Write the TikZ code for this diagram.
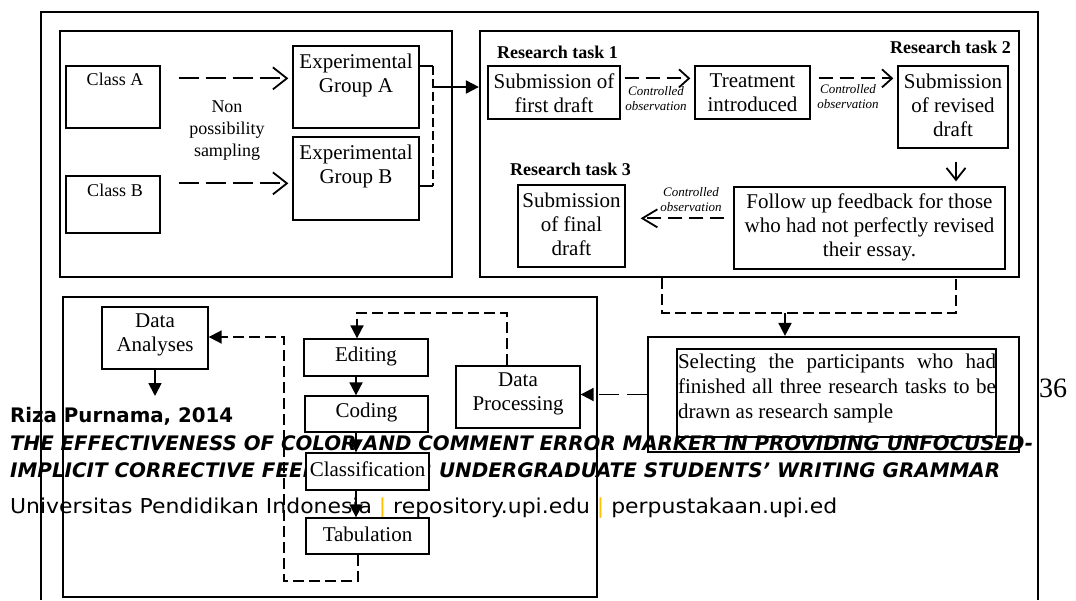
\documentclass[tikz,border=0pt]{standalone}
\usepackage{fontspec}
\usepackage{graphicx}
\setmainfont{Liberation Serif}
\newfontfamily\footfont{DejaVu Sans}
\usetikzlibrary{arrows.meta,calc,fit}
\definecolor{footy}{RGB}{255,192,0}
\begin{document}
\begin{tikzpicture}[x=1pt,y=-1pt,
  container/.style={draw,line width=2.2pt,inner sep=0pt},
  box/.style={draw,line width=1.3pt,fill=white,inner sep=0pt},
  plainbox/.style={draw,line width=1.3pt,inner sep=0pt},
  txtbig/.style={inner sep=0pt,align=center,font=\fontsize{21}{24}\selectfont},
  txtmid/.style={inner sep=0pt,align=center,font=\fontsize{18}{22}\selectfont},
  rtlabel/.style={inner sep=0pt,font=\fontsize{18}{20}\selectfont\bfseries},
  cobs/.style={inner sep=0pt,align=center,font=\fontsize{13}{15}\selectfont\itshape},
  conn/.style={line width=1.8pt},
  bigdash/.style={conn,dash pattern=on 20pt off 7pt},
  middash/.style={conn,dash pattern=on 14pt off 7pt},
  smalldash/.style={conn,dash pattern=on 11pt off 5pt},
  tinydash/.style={conn,dash pattern=on 9pt off 4pt},
  longdash/.style={conn,dash pattern=on 20pt off 8pt},
  openbig/.style={-{Straight Barb[length=14pt,width=22pt]}},
  openmid/.style={-{Straight Barb[length=10pt,width=18pt]}},
  openleft/.style={-{Straight Barb[length=15pt,width=18pt]}},
  opendown/.style={-{Straight Barb[length=12pt,width=19pt]}},
  filled/.style={-{Triangle[length=13pt,width=13pt]}},
  foot/.style={inner sep=0pt,anchor=base west}
]
\useasboundingbox (0,0) rectangle (1076,600);
\fill[white] (0,0) rectangle (1076,600);

% footer text (drawn first, diagram on top)
\node[foot,font=\footfont\fontsize{20}{20}\selectfont\bfseries] (f1) at (10,422)
  {\resizebox{223pt}{\height}{Riza Purnama, 2014}};
\node[foot,font=\footfont\fontsize{20}{20}\selectfont\bfseries\itshape] (f2) at (10,450)
  {\resizebox{1023pt}{\height}{THE EFFECTIVENESS OF COLOR AND COMMENT ERROR MARKER IN PROVIDING UNFOCUSED-}};
\node[foot,font=\footfont\fontsize{20}{20}\selectfont\bfseries\itshape] (f3) at (10,477)
  {\resizebox{990pt}{\height}{IMPLICIT CORRECTIVE FEEDBACK FOR UNDERGRADUATE STUDENTS’ WRITING GRAMMAR}};
\node[foot,font=\footfont\fontsize{20.5}{20}\selectfont] (f4) at (10,513)
  {\resizebox{827pt}{\height}{Universitas Pendidikan Indonesia {\color{footy}|} repository.upi.edu {\color{footy}|} perpustakaan.upi.ed}};

% outer frame
\draw[line width=2pt] (41,600) -- (41,12) -- (1038,12) -- (1038,600);

% containers
\node[container,fit={(60,31) (452,277)}] (tl) {};
\node[container,fit={(480,31) (1019,277)}] (tr) {};
\node[container,fit={(63,297) (597,597)}] (bl) {};
\node[container,fit={(648,337) (1019,452)}] (sel) {};
\node[plainbox,fit={(677,349) (996,437)}] (selin) {};
\node[inner sep=0pt,text width=318pt,align=justify,font=\fontsize{21}{25}\selectfont] (seltxt) at (837,388)
  {Selecting the participants who had\linebreak finished all three research tasks to be\linebreak drawn as research sample};

% top-left group
\node[box,fit={(66,66) (160,128)}] (classA) {};
\node[txtmid] (classAt) at (115,79) {Class A};
\node[box,fit={(66,176) (160,233)}] (classB) {};
\node[txtmid] (classBt) at (115,190) {Class B};
\node[box,fit={(293,46) (419,128)}] (expA) {};
\node[txtbig] (expAt) at (356,75) {Experimental\\Group A};
\node[box,fit={(293,137) (419,220)}] (expB) {};
\node[txtbig] (expBt) at (356,166) {Experimental\\Group B};
\node[txtmid] (nps) at (227,131) {Non\\possibility\\sampling};

\draw[bigdash,openbig] ($(classA.north east)+(18,13)$) -- ($(expA.north west)+(-4,33)$);
\draw[bigdash,openbig] ($(classB.north east)+(18,8)$) -- ($(expB.north west)+(-4,47)$);

\coordinate (jA) at (433,66);
\coordinate (jB) at (433,186);
\coordinate (jM) at (433,87);
\draw[conn] (expA.east |- jA) -- (jA);
\draw[tinydash] (jA) -- (jB);
\draw[conn] (jB) -- (expB.east |- jB);
\draw[conn,filled] (jM) -- (jM -| tr.west);

% top-right group
\node[rtlabel,anchor=west] (rt1) at (497,52) {Research task 1};
\node[rtlabel,anchor=east] (rt2) at (1011,47) {Research task 2};
\node[rtlabel,anchor=west] (rt3) at (510,169) {Research task 3};
\node[box,fit={(488,66) (620,119)}] (subFirst) {};
\node[txtbig] (subFirstT) at (554,93) {Submission of\\first draft};
\node[box,fit={(695,66) (810,119)}] (treat) {};
\node[txtbig] (treatT) at (752.5,93) {Treatment\\introduced};
\node[box,fit={(898,66) (1008,148)}] (subRev) {};
\node[txtbig] (subRevT) at (953,105) {Submission\\of revised\\draft};
\node[box,fit={(518,185) (625,267)}] (subFinal) {};
\node[txtbig] (subFinalT) at (571.5,224) {Submission\\of final\\draft};
\node[box,fit={(734,187) (1005,269)}] (follow) {};
\node[txtbig] (followT) at (869.5,227) {Follow up feedback for those\\who had not perfectly revised\\their essay.};
\node[cobs] (co1) at (656,99) {Controlled\\observation};
\node[cobs] (co2) at (848,97) {Controlled\\observation};
\node[cobs] (co3) at (691,200) {Controlled\\observation};

\draw[middash,openmid] ($(subFirst.north east)+(4,13)$) -- ($(treat.north west)+(-4,13)$);
\draw[middash,openmid] ($(treat.north east)+(8,13)$) -- ($(subRev.north west)+(-4,13)$);
\draw[conn,opendown,shorten >=5pt] ($(subRev.south)+(3,13)$) coordinate (d0) -- (d0 |- follow.north);
\draw[middash,openleft] ($(follow.north west)+(-9,32)$) -- ($(subFinal.north east)+(15,34)$);

% link to selection
\coordinate (b1) at (662,313);
\coordinate (b2) at (956,313);
\coordinate (b3) at (785,313);
\draw[smalldash] (b1 |- tr.south) -- (b1) -- (b2) -- (b2 |- tr.south);
\draw[conn,filled] (b3) -- (b3 |- sel.north);

% bottom-left group
\node[box,fit={(456,366) (580,428)}] (dataProc) {};
\node[txtbig] (dataProcT) at (518,394) {Data\\Processing};
\node[box,fit={(102,307) (208,369)}] (dataAn) {};
\node[txtbig] (dataAnT) at (155,335) {Data\\Analyses};
\node[box,fit={(304,339) (428,376)}] (edit) {};
\node[txtbig] (editT) at (366,356) {Editing};
\node[box,fit={(305,396) (428,432)}] (coding) {};
\node[txtbig] (codingT) at (366.5,412) {Coding};
\node[box,fit={(306,453) (429,490)}] (classif) {};
\node[txtbig] (classifT) at (367.5,469) {Classification};
\node[box,fit={(306,518) (429,554)}] (tab) {};
\node[txtbig] (tabT) at (367.5,534) {Tabulation};

\draw[longdash,filled] (sel.west) -- (sel.west -| dataProc.east);

\coordinate (p1) at (507,313);
\coordinate (p2) at (357,313);
\draw[smalldash,filled] (p1 |- dataProc.north) -- (p1) -- (p2) -- (p2 |- edit.north);

\coordinate (ax) at (356,0);
\draw[conn,filled] (edit.south -| ax) -- (coding.north -| ax);
\draw[conn,filled] (coding.south -| ax) -- (classif.north -| ax);
\draw[conn,filled] (classif.south -| ax) -- (tab.north -| ax);

\coordinate (daEnd) at (155,396);
\draw[conn,filled] (dataAn.south) -- (daEnd);

\coordinate (l1) at (358,581);
\coordinate (l2) at (284,581);
\coordinate (l3) at (284,337);
\draw[smalldash,filled] (tab.south -| l1) -- (l1) -- (l2) -- (l3) -- (l3 -| dataAn.east);

\node[inner sep=0pt,font=\fontsize{28}{28}\selectfont] (pg) at (1053,388) {36};
\end{tikzpicture}
\end{document}
